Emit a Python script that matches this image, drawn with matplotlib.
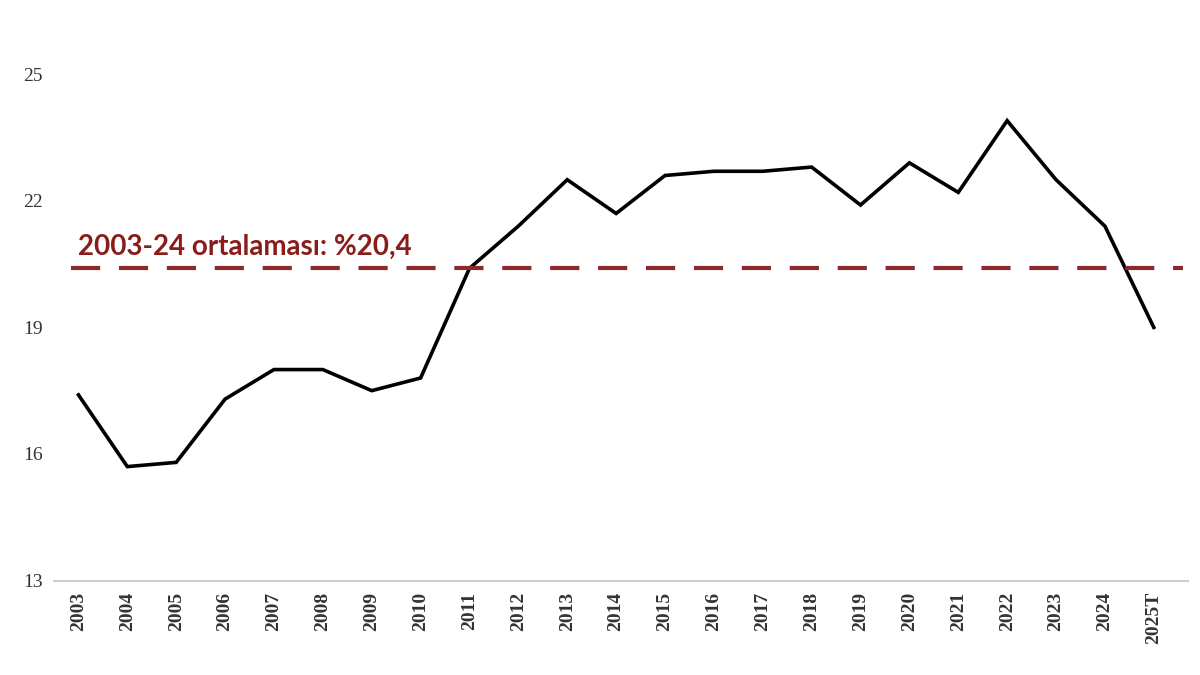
import numpy as np
import matplotlib
matplotlib.use("Agg")
import matplotlib.pyplot as plt

years = ["2003", "2004", "2005", "2006", "2007", "2008", "2009", "2010",
         "2011", "2012", "2013", "2014", "2015", "2016", "2017", "2018",
         "2019", "2020", "2021", "2022", "2023", "2024", "2025T"]
values = [17.4, 15.7, 15.8, 17.3, 18.0, 18.0, 17.5, 17.8,
          20.4, 21.4, 22.5, 21.7, 22.6, 22.7, 22.7, 22.8,
          21.9, 22.9, 22.2, 23.9, 22.5, 21.4, 19.0]
average = 20.4
avg_label = "2003-24 ortalaması: %20,4"
yticks = [13, 16, 19, 22, 25]

fig = plt.figure(figsize=(12, 6.75), dpi=100)
ax = fig.add_axes([0.045, 0.14, 0.945, 0.75])

x = np.arange(len(years))
ax.plot(x, values, color="black", linewidth=2.6, solid_joinstyle="miter")

# ortalama cizgisi
ax.plot([-0.15, 22.6], [average, average], color="#8b2a2a", linewidth=3,
        linestyle=(0, (7, 4.5)))
ax.text(0, average + 0.2, avg_label, color="#8b1c1c", fontsize=20,
        family="Lato", fontweight="bold", va="bottom", ha="left")

ax.set_xlim(-0.5, 22.7)
ax.set_ylim(13, 25)
ax.set_yticks(yticks)
ax.set_yticklabels([str(t) for t in yticks], family="Liberation Serif",
                   fontsize=14, color="#333333")
ax.set_xticks(x)
ax.set_xticklabels(years, rotation=90, family="Liberation Serif",
                   fontsize=14, fontweight="bold", color="#333333")

for s in ["top", "right", "left"]:
    ax.spines[s].set_visible(False)
ax.spines["bottom"].set_color("#d0d0d0")
ax.spines["bottom"].set_linewidth(1.5)
ax.tick_params(axis="both", length=0, pad=8)

fig.savefig("out.png", dpi=100)
